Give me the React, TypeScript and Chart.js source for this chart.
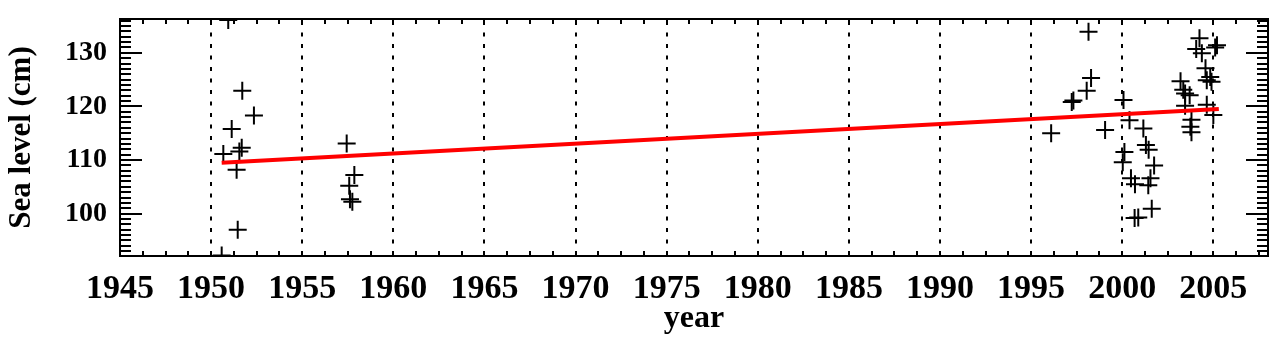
import React, { useEffect, useRef } from "react";
import { Chart, registerables } from "chart.js";

Chart.register(...registerables);

// Observations (year, sea level in cm)
const YEARS = [
  1950.58, 1950.94, 1951.71, 1952.35, 1951.13, 1951.68, 1951.55, 1950.67, 1951.4, 1951.46,
  1957.44, 1957.86, 1957.58, 1957.62, 1957.75,
  1996.1, 1997.23, 1997.32, 1998.05, 1998.29, 1998.15, 1999.06,
  2000.07, 2000.4, 2001.16, 2000.12, 2000.03, 2001.3, 2001.45, 2001.75, 2000.48, 2000.7,
  2001.55, 2001.43, 2001.62, 2000.68, 2000.88,
  2003.2, 2003.35, 2003.45, 2003.7, 2003.45, 2003.8, 2003.74, 2003.8, 2004.24, 2004.06,
  2004.37, 2005.2, 2005.1, 2004.57, 2004.83, 2004.64, 2004.9, 2004.64, 2005.0,
];
const LEVELS = [
  92.2, 136.1, 122.9, 118.3, 115.8, 112.3, 111.6, 111.1, 108.2, 97.0,
  113.1, 107.2, 105.2, 102.7, 102.2,
  115.0, 120.8, 121.1, 122.9, 125.3, 133.9, 115.6,
  121.2, 117.4, 115.9, 111.5, 109.6, 112.8, 111.9, 109.0, 106.6, 105.5,
  106.6, 105.3, 100.9, 99.2, 99.3,
  124.7, 123.1, 122.4, 122.1, 120.1, 117.5, 116.2, 115.2, 132.7, 130.7,
  129.9, 131.4, 131.0, 127.1, 125.5, 124.9, 124.6, 120.3, 118.4,
];

// Linear trend line end points
const TREND_YEARS = [1950.58, 2005.3];
const TREND_LEVELS = [109.5, 119.5];

const X_TICKS = [1945, 1950, 1955, 1960, 1965, 1970, 1975, 1980, 1985, 1990, 1995, 2000, 2005];
const Y_TICKS = [100, 110, 120, 130];
const X_MIN = 1945;
const X_MAX = 2008;
const Y_MIN = 92.1;
const Y_MAX = 136.3;
const X_MINOR_STEP = 1.25;
const Y_MINOR_STEP = 1;

const FONT = "'Liberation Serif', 'Times New Roman', 'DejaVu Serif', serif";

const framePlugin = {
  id: "idlFrame",
  beforeDatasetsDraw(chart: any) {
    const { ctx, chartArea, scales } = chart;
    const { left, right, top, bottom } = chartArea;
    ctx.save();
    ctx.beginPath();
    ctx.rect(left, top, right - left, bottom - top);
    ctx.clip();
    ctx.strokeStyle = "#000";
    ctx.lineWidth = 2;
    ctx.setLineDash([4, 7.5]);
    for (const v of X_TICKS) {
      if (v <= X_MIN || v >= X_MAX) continue;
      const px = Math.round(scales.x.getPixelForValue(v));
      ctx.beginPath();
      ctx.moveTo(px, top + 2);
      ctx.lineTo(px, bottom);
      ctx.stroke();
    }
    ctx.restore();
  },
  afterDatasetsDraw(chart: any) {
    const { ctx, chartArea, scales } = chart;
    const { left, right, top, bottom } = chartArea;
    ctx.save();
    ctx.strokeStyle = "#000";
    ctx.lineWidth = 2;
    ctx.setLineDash([]);
    // x ticks (top and bottom)
    for (let i = 0; ; i++) {
      const v = X_MIN + i * X_MINOR_STEP;
      if (v > X_MAX + 1e-9) break;
      const px = Math.round(scales.x.getPixelForValue(v));
      ctx.beginPath();
      ctx.moveTo(px, bottom);
      ctx.lineTo(px, bottom - 5);
      ctx.moveTo(px, top);
      ctx.lineTo(px, top + 5);
      ctx.stroke();
    }
    // y ticks (left and right)
    for (let v = Math.ceil(Y_MIN); v <= Y_MAX; v += Y_MINOR_STEP) {
      const py = Math.round(scales.y.getPixelForValue(v));
      const len = Y_TICKS.includes(v) ? 22 : 11;
      ctx.beginPath();
      ctx.moveTo(left, py);
      ctx.lineTo(left + len, py);
      ctx.moveTo(right, py);
      ctx.lineTo(right - len, py);
      ctx.stroke();
    }
    ctx.strokeRect(left, top, right - left, bottom - top);
    ctx.restore();
  },
};

export default function App() {
  const canvasRef = useRef<HTMLCanvasElement | null>(null);

  useEffect(() => {
    const canvas = canvasRef.current;
    if (!canvas) return;
    const points = YEARS.map((x, i) => ({ x, y: LEVELS[i] }));
    const trend = TREND_YEARS.map((x, i) => ({ x, y: TREND_LEVELS[i] }));

    const chart = new Chart(canvas, {
      type: "scatter",
      data: {
        datasets: [
          {
            type: "line",
            data: trend,
            borderColor: "rgb(255,0,0)",
            borderWidth: 4,
            pointRadius: 0,
            showLine: true,
            fill: false,
          } as any,
          {
            data: points,
            pointStyle: "cross",
            pointRadius: 9,
            pointBorderWidth: 2,
            borderWidth: 2,
            borderColor: "#000",
            backgroundColor: "#000",
            showLine: false,
            clip: 0,
          } as any,
        ],
      },
      options: {
        responsive: false,
        animation: false,
        devicePixelRatio: 1,
        layout: { padding: { left: 0, right: 11, top: 19, bottom: 0 } },
        plugins: { legend: { display: false }, tooltip: { enabled: false } },
        scales: {
          x: {
            type: "linear",
            position: "bottom",
            min: X_MIN,
            max: X_MAX,
            grid: { display: false, drawTicks: false },
            border: { display: false },
            afterBuildTicks: (s: any) => {
              s.ticks = X_TICKS.map((value) => ({ value }));
            },
            afterFit: (s: any) => {
              s.height = 90;
              s.paddingLeft = 0;
              s.paddingRight = 0;
              s.paddingTop = 0;
              s.paddingBottom = 0;
            },
            ticks: {
              autoSkip: false,
              maxRotation: 0,
              padding: 13,
              color: "#000",
              font: { family: FONT, size: 34, weight: "bold" },
              callback: (v: any) => String(v),
            },
            title: {
              display: true,
              text: "year",
              color: "#000",
              font: { family: FONT, size: 32, weight: "bold" },
              padding: { top: 0, bottom: 8 },
            },
          },
          y: {
            type: "linear",
            min: Y_MIN,
            max: Y_MAX,
            grid: { display: false, drawTicks: false },
            border: { display: false },
            afterBuildTicks: (s: any) => {
              s.ticks = Y_TICKS.map((value) => ({ value }));
            },
            afterFit: (s: any) => {
              s.width = 120;
              s.paddingLeft = 0;
              s.paddingRight = 0;
              s.paddingTop = 0;
              s.paddingBottom = 0;
            },
            ticks: {
              autoSkip: false,
              padding: 13,
              color: "#000",
              font: { family: FONT, size: 28, weight: "bold" },
              callback: (v: any) => String(v),
            },
            title: {
              display: true,
              text: "Sea level (cm)",
              color: "#000",
              font: { family: FONT, size: 31, weight: "bold" },
              padding: { top: 3, bottom: 0 },
            },
          },
        },
      },
      plugins: [framePlugin],
    } as any);

    return () => chart.destroy();
  }, []);

  return (
    <div style={{ position: "absolute", left: 0, top: 0, width: 1279, height: 346, background: "#fff" }}>
      <canvas ref={canvasRef} width={1279} height={346} style={{ display: "block" }} />
    </div>
  );
}
